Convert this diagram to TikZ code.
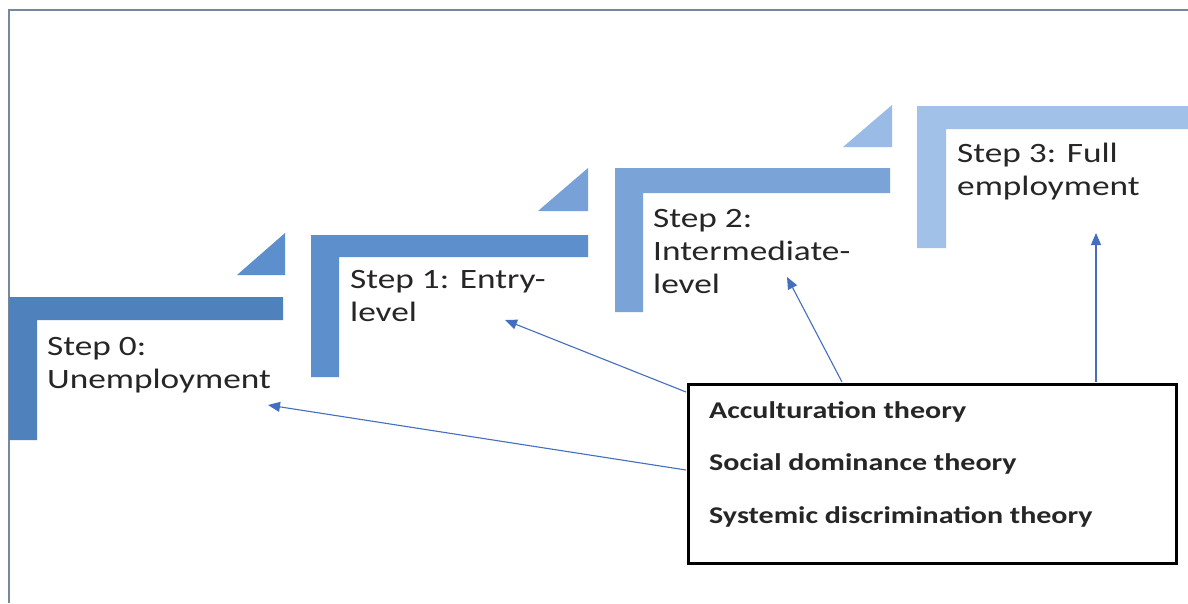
\documentclass[tikz,border=0pt]{standalone}
\usepackage{fontspec}
\usepackage{graphicx}
\setmainfont{Carlito}
\usetikzlibrary{arrows.meta}
\definecolor{frame}{RGB}{120,135,160}
\definecolor{sA}{RGB}{79,129,189}
\definecolor{sB}{RGB}{92,143,203}
\definecolor{sC}{RGB}{122,163,216}
\definecolor{sD}{RGB}{162,193,232}
\definecolor{arr}{RGB}{68,110,190}
\newcommand{\steptext}[1]{\scalebox{1.26}[1]{\fontsize{28}{33}\selectfont\begin{tabular}[t]{@{}l@{}}#1\end{tabular}}}
\newcommand{\theorytext}[1]{\scalebox{1.25}[1]{\bfseries\fontsize{24}{28}\selectfont #1}}
\tikzset{
  steplabel/.style={anchor=base west, inner sep=0pt, text=black!85},
  theory/.style={anchor=base west, inner sep=0pt, text=black!85},
  conn/.style={draw=arr, line width=1.1pt, -{Triangle[length=12pt,width=10pt]}},
}
\begin{document}
\begin{tikzpicture}[x=1pt,y=-1pt]
\useasboundingbox (0,0) rectangle (1188,603);
\fill[white] (0,0) rectangle (1188,603);
% frame
\draw[frame, line width=1.6pt] (9,603) -- (9,10) -- (1188,10);
% step 0
\fill[sA] (9,297) -- (283,297) -- (283,320) -- (37,320) -- (37,440) -- (9,440) -- cycle;
% triangle 0
\fill[sB] (237,275) -- (285,275) -- (285,233) -- cycle;
% step 1
\fill[sB] (311,235) -- (588,235) -- (588,257) -- (339,257) -- (339,377) -- (311,377) -- cycle;
% triangle 1
\fill[sC!90!sB] (538,211) -- (588,211) -- (588,168) -- cycle;
% step 2
\fill[sC] (615,168) -- (890,168) -- (890,193) -- (643,193) -- (643,312) -- (615,312) -- cycle;
% triangle 2
\fill[sD!80!sC] (843,147) -- (892,147) -- (892,105) -- cycle;
% step 3
\fill[sD] (917,106) -- (1188,106) -- (1188,129) -- (946,129) -- (946,248) -- (917,248) -- cycle;
% labels
\node[steplabel] (s0) at (47,355) {\steptext{Step 0:\\Unemployment}};
\node[steplabel] (s1) at (350,288) {\steptext{Step 1: Entry-\\level}};
\node[steplabel] (s2) at (653,227) {\steptext{Step 2:\\Intermediate-\\level}};
\node[steplabel] (s3) at (957,162) {\steptext{Step 3: Full\\employment}};
% theories box
\node[draw=black, line width=3pt, minimum width=488pt, minimum height=179pt, inner sep=0pt, anchor=north west] (box) at (687,383) {};
\node[theory] (t1) at (709,418) {\theorytext{Acculturation theory}};
\node[theory] (t2) at (709,470) {\theorytext{Social dominance theory}};
\node[theory] (t3) at (709,523) {\theorytext{Systemic discrimination theory}};
% arrow ends
\coordinate (a0) at (268,405);
\coordinate (a1) at (505,320);
\coordinate (a2) at (787,277);
\coordinate (a3) at (1096,233);
\coordinate (b0) at (686,470);
\coordinate (b1) at (686,392);
\coordinate (b2) at (842,382);
\coordinate (b3) at (1096,382);
\draw[conn] (b0) -- (a0);
\draw[conn] (b1) -- (a1);
\draw[conn] (b2) -- (a2);
\draw[conn] (b3) -- (a3);
\end{tikzpicture}
\end{document}
